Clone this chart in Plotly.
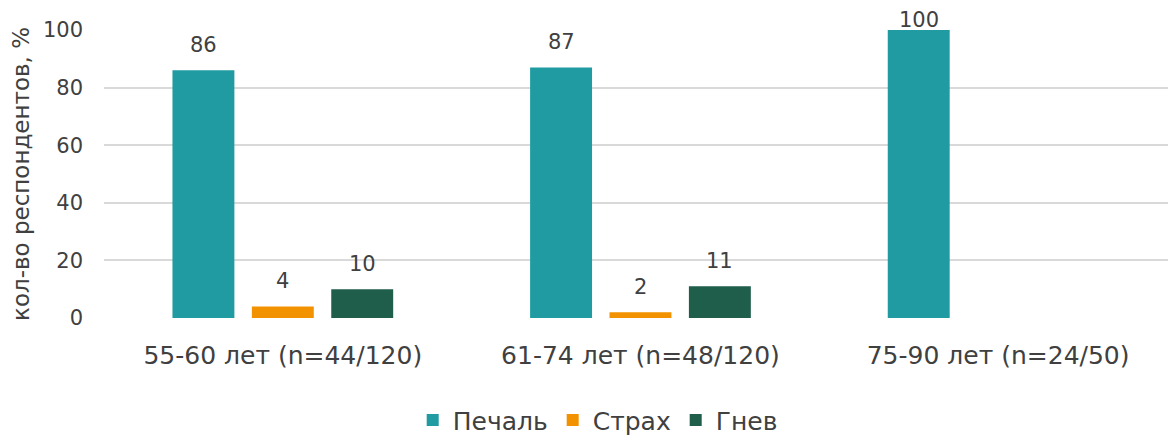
import plotly.graph_objects as go

categories = ["55-60 лет (n=44/120)", "61-74 лет (n=48/120)", "75-90 лет (n=24/50)"]
series_names = ["Печаль", "Страх", "Гнев"]
sadness = [86, 87, 100]
fear = [4, 2, None]
anger = [10, 11, None]
colors = ["#1F9BA1", "#F39200", "#1F5E4B"]
y_ticks = [0, 20, 40, 60, 80, 100]

font_family = "DejaVu Sans, Arial, sans-serif"
text_color = "#404040"

MARGIN_L, MARGIN_T, MARGIN_B = 104, 30, 120
W, H = 1168, 438
BARGAP, GROUPGAP = 0.334, 0.22
X_RANGE = [-0.5, 2.475]
plot_w = W - MARGIN_L
plot_h = H - MARGIN_T - MARGIN_B
cat_px = plot_w / (X_RANGE[1] - X_RANGE[0])
slot_px = cat_px * (1 - BARGAP) / len(series_names)

fig = go.Figure()
annotations = []
for i, (name, vals, col) in enumerate(zip(series_names, [sadness, fear, anger], colors)):
    fig.add_trace(go.Bar(
        x=categories, y=vals, name=name,
        marker=dict(color=col, line=dict(width=0)),
        cliponaxis=False,
    ))
    for cat, v in zip(categories, vals):
        if v is None:
            continue
        top_px = plot_h * (1 - v / 100.0)
        shift = min(25, top_px + 10)
        annotations.append(dict(
            x=cat, y=v, xref="x", yref="y", text=str(v), showarrow=False,
            xshift=(i - 1) * slot_px, yshift=shift, yanchor="middle",
            font=dict(size=21, color=text_color, family=font_family),
        ))

fig.update_layout(
    width=W, height=H,
    margin=dict(l=MARGIN_L, r=0, t=MARGIN_T, b=MARGIN_B, autoexpand=False),
    paper_bgcolor="white", plot_bgcolor="white",
    barmode="group", bargap=BARGAP, bargroupgap=GROUPGAP,
    font=dict(family=font_family, color=text_color),
    showlegend=True,
    legend=dict(orientation="h", x=0.464, xanchor="center", y=-0.355, yanchor="middle",
                font=dict(size=25, color=text_color), itemwidth=30, traceorder="normal"),
    xaxis=dict(range=X_RANGE, showgrid=False, showline=False, ticks="",
               tickfont=dict(size=25, color=text_color), ticklabelstandoff=20,
               automargin=False),
    yaxis=dict(range=[0, 100], tickvals=y_ticks, showgrid=True, gridcolor="#D9D9D9",
               gridwidth=1.5, zeroline=False, showline=False,
               tickfont=dict(size=21, color=text_color), ticks="", ticklabelstandoff=20,
               automargin=False,
               title=dict(text="кол-во респондентов, %", font=dict(size=23, color=text_color),
                          standoff=6)),
    annotations=annotations,
)

fig.write_html("out.html")
